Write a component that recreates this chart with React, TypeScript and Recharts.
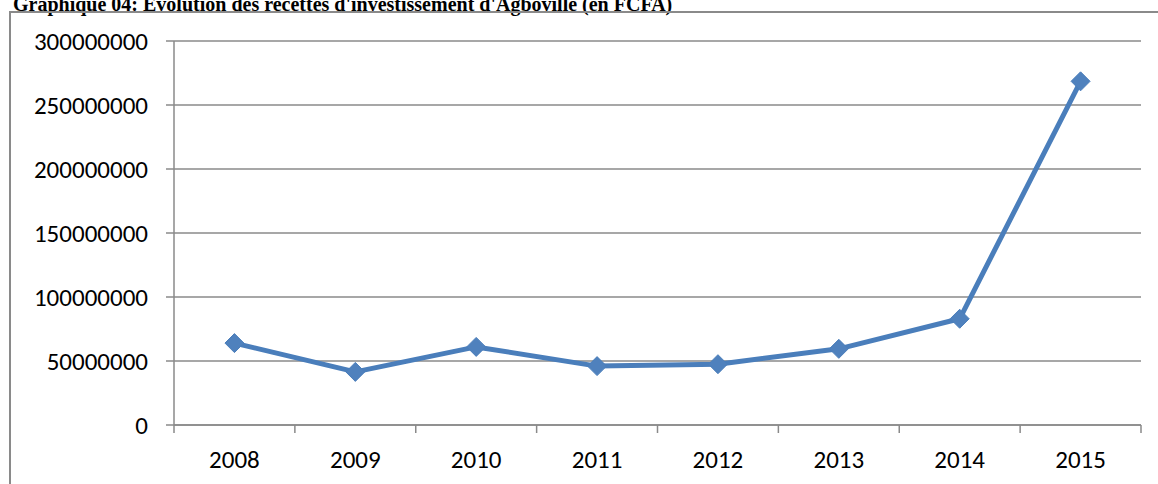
import React from 'react';
import {
  LineChart,
  Line,
  XAxis,
  YAxis,
  CartesianGrid } from
'recharts';

const years = ['2008', '2009', '2010', '2011', '2012', '2013', '2014', '2015'];
const recettes = [64000000, 41500000, 61000000, 46000000, 47500000, 59500000, 83000000, 268500000];
const yTicks = [0, 50000000, 100000000, 150000000, 200000000, 250000000, 300000000];

const data = years.map((year, i) => ({ year, value: recettes[i] }));

const AXIS = '#8a8a8a';
const BLUE = '#4A7EBB';
const FONT = "Carlito, Calibri, 'Liberation Sans', sans-serif";

const W = 1158;
const H = 484;
const LEFT = 174;
const RIGHT = 17;
const BAND = (W - LEFT - RIGHT) / years.length;

function XTick(props: any) {
  const { x, y, payload, index } = props;
  const half = payload && payload.offset ? payload.offset : BAND / 2;
  const last = index === years.length - 1;
  return (
    <g>
      <line x1={x - half} x2={x - half} y1={y - 8} y2={y} stroke={AXIS} strokeWidth={1.5} />
      {last &&
      <line x1={x + half} x2={x + half} y1={y - 8} y2={y} stroke={AXIS} strokeWidth={1.5} />
      }
      <text x={x} y={y + 35} textAnchor="middle" fill="#000" fontSize={25} fontFamily={FONT}>
        {payload.value}
      </text>
    </g>);

}

function Diamond(props: any) {
  const { cx, cy } = props;
  if (cx == null || cy == null) return null;
  const r = 9.5;
  return (
    <polygon
      points={`${cx},${cy - r} ${cx + r},${cy} ${cx},${cy + r} ${cx - r},${cy}`}
      fill="#4F81BD"
      stroke={BLUE}
      strokeWidth={1} />);

}

export default function App() {
  return (
    <div
      style={{
        position: 'absolute',
        left: 0,
        top: 0,
        width: W,
        height: H,
        overflow: 'hidden',
        background: '#fff'
      }}>
      <div
        style={{
          position: 'absolute',
          left: 13,
          top: -6,
          fontFamily: "'Liberation Serif', 'Times New Roman', serif",
          fontWeight: 'bold',
          fontSize: 20,
          lineHeight: '20px',
          whiteSpace: 'nowrap',
          color: '#000'
        }}>
        Graphique 04: Evolution des recettes d'investissement d'Agboville (en FCFA)
      </div>
      <div
        style={{
          position: 'absolute',
          left: 9,
          top: 11,
          width: 1300,
          height: 700,
          border: `2px solid ${AXIS}`
        }} />
      <div style={{ position: 'absolute', left: 0, top: 0 }}>
        <LineChart
          width={W}
          height={H}
          data={data}
          margin={{ top: 41, right: RIGHT, left: 0, bottom: 0 }}>
          <CartesianGrid vertical={false} stroke={AXIS} strokeWidth={1.5} />
          <XAxis
            dataKey="year"
            scale="band"
            height={59}
            axisLine={{ stroke: AXIS, strokeWidth: 1.5 }}
            tickLine={false}
            tickSize={8}
            tickMargin={0}
            interval={0}
            tick={<XTick />} />
          <YAxis
            width={LEFT}
            domain={[0, 300000000]}
            ticks={yTicks}
            interval={0}
            axisLine={{ stroke: AXIS, strokeWidth: 1.5 }}
            tickLine={{ stroke: AXIS, strokeWidth: 1.5 }}
            tickSize={8}
            tickMargin={18}
            tick={{ fill: '#000', fontSize: 25, fontFamily: FONT }} />
          <Line
            type="linear"
            dataKey="value"
            stroke={BLUE}
            strokeWidth={5}
            strokeLinejoin="round"
            dot={<Diamond />}
            activeDot={false}
            isAnimationActive={false} />
        </LineChart>
      </div>
    </div>);

}
